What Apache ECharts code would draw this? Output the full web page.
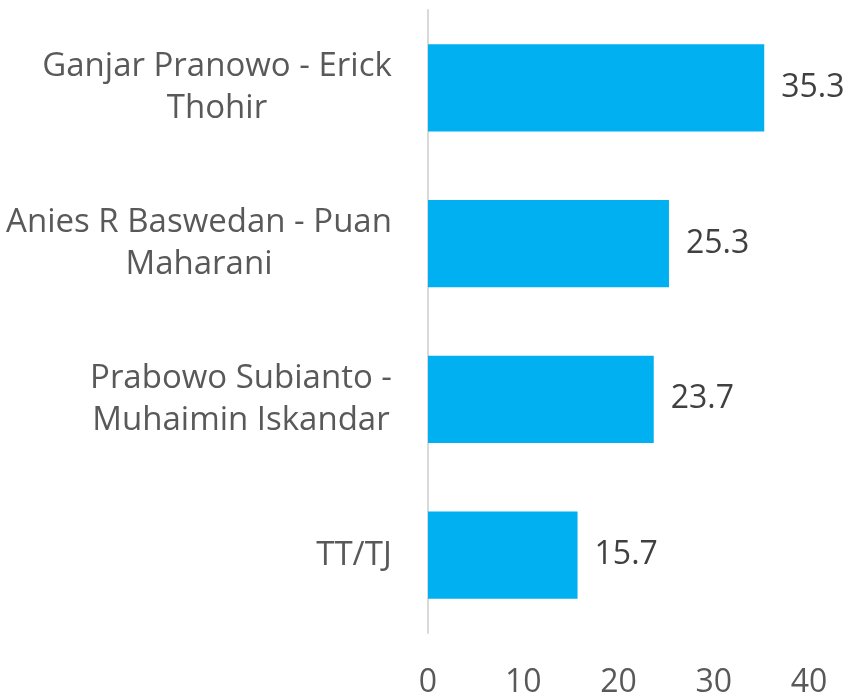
<!DOCTYPE html>
<html>
<head>
<meta charset="utf-8">
<script src="https://cdn.jsdelivr.net/npm/echarts@6/dist/echarts.min.js"></script>
<style>
  html, body { margin: 0; padding: 0; background: #fff; }
  #chart { width: 849px; height: 699px; }
</style>
</head>
<body>
<div id="chart"></div>
<script>
// Pasangan calon dan persentase dukungan
const categories = [
  'Ganjar Pranowo - Erick\nThohir',
  'Anies R Baswedan - Puan\nMaharani',
  'Prabowo Subianto -\nMuhaimin Iskandar',
  'TT/TJ'
];
const values = [35.3, 25.3, 23.7, 15.7];
const xTicks = [0, 10, 20, 30, 40];

const LABEL_FONT = 'Open Sans';
const LABEL_SIZE = 33;

// Each wrapped category label is a block whose lines are centred within it,
// with the block itself right-aligned against the axis.
const measureCtx = document.createElement('canvas').getContext('2d');
measureCtx.font = LABEL_SIZE + 'px "' + LABEL_FONT + '"';
const rich = {};
categories.forEach(function (name, i) {
  const w = Math.max.apply(null, name.split('\n').map(function (l) {
    return measureCtx.measureText(l).width;
  }));
  rich['c' + i] = {
    width: Math.ceil(w) + 2,
    align: 'center',
    fontFamily: LABEL_FONT,
    fontSize: LABEL_SIZE,
    lineHeight: 42,
    color: '#595959'
  };
});

const chart = echarts.init(document.getElementById('chart'));
chart.setOption({
  animation: false,
  grid: { left: 428, right: 40, top: 10, bottom: 65, containLabel: false },
  xAxis: {
    type: 'value',
    min: xTicks[0],
    max: xTicks[xTicks.length - 1],
    interval: 10,
    axisLine: { show: false },
    axisTick: { show: false },
    splitLine: { show: false },
    axisLabel: {
      margin: 34,
      fontFamily: 'Open Sans',
      fontSize: 32,
      color: '#595959'
    }
  },
  yAxis: {
    type: 'category',
    data: categories,
    inverse: true,
    axisLine: { show: true, lineStyle: { color: '#D9D9D9', width: 2 } },
    axisTick: { show: false },
    axisLabel: {
      margin: 35,
      fontFamily: LABEL_FONT,
      fontSize: LABEL_SIZE,
      lineHeight: 42,
      color: '#595959',
      align: 'right',
      rich: rich,
      formatter: function (value, index) {
        return value.split('\n').map(function (l) {
          return '{c' + index + '|' + l + '}';
        }).join('\n');
      }
    }
  },
  series: [{
    type: 'bar',
    data: values,
    barWidth: '56%',
    itemStyle: { color: '#00B0F0' },
    label: {
      show: true,
      position: 'right',
      distance: 17,
      fontFamily: 'Open Sans',
      fontSize: 32,
      color: '#404040'
    }
  }]
});
</script>
</body>
</html>
